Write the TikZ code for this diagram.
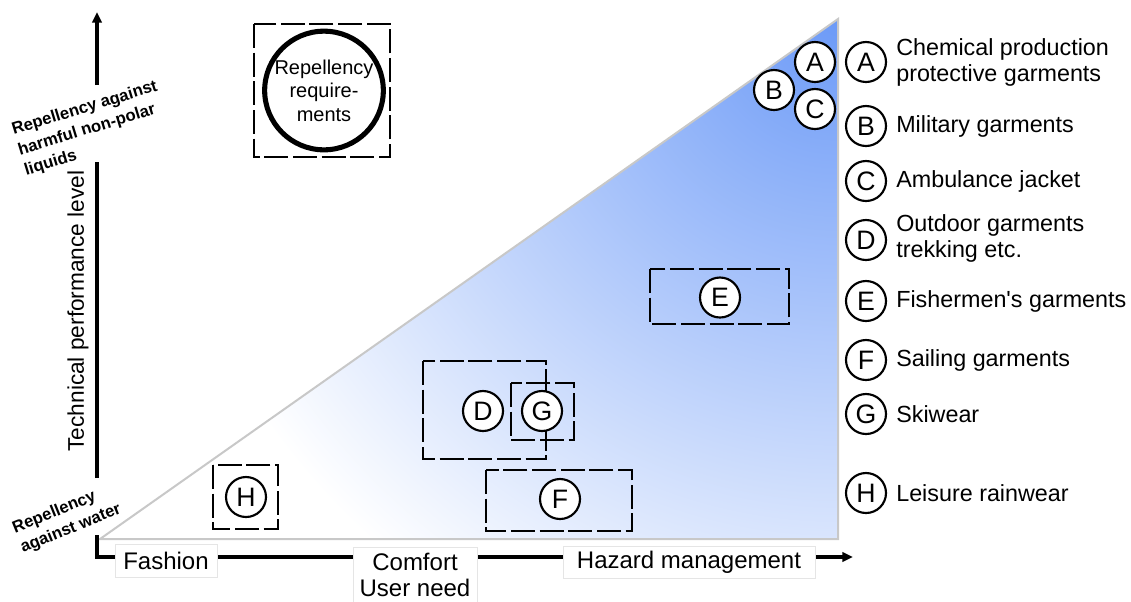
\documentclass[tikz,border=0pt]{standalone}
\usepackage{fontspec}
\setmainfont{Liberation Sans}
\usetikzlibrary{arrows.meta}
\definecolor{cBlue}{RGB}{108,154,247}
\definecolor{cEdge}{RGB}{200,200,200}
\begin{document}
\begin{tikzpicture}[x=0.75pt,y=-0.75pt,
  lettercirc/.style={circle,draw,line width=1.6pt,fill=white,minimum size=30pt,inner sep=0pt,font=\fontsize{20}{20}\selectfont},
  dbox/.style={draw,line width=1.4pt,dash pattern=on 18pt off 3.5pt},
  legtext/.style={anchor=west,align=left,font=\fontsize{17.5}{19.5}\selectfont,inner sep=0pt},
  axisbox/.style={draw=black!10,fill=white,line width=0.6pt,font=\fontsize{18}{19}\selectfont,inner sep=0pt,align=center},
  axisline/.style={line width=3pt},
  sidelabel/.style={font=\bfseries\fontsize{12.5}{16}\selectfont,align=left,inner sep=0pt},
  tip/.style={-{Triangle[length=8pt,width=7pt]}}
  ]
\useasboundingbox (0,0) rectangle (1131,601);
% triangle
\coordinate (T1) at (100,539);
\coordinate (T2) at (838,19);
\coordinate (T3) at (838,539);
\begin{scope}
\clip (T1) -- (T2) -- (T3) -- cycle;
\fill[white] (T1) -- (T2) -- (T3) -- cycle;
\shade[inner color=cBlue, outer color=white] (T2) circle[radius=700];
\end{scope}
\draw[cEdge, line width=1.5pt, line join=miter] (T1) -- (T2) -- (T3) -- cycle;
% axes
\coordinate (Ya) at (97,535);
\coordinate (O) at (97,557);
\coordinate (Xend) at (853,557);
\coordinate (Yb) at (97,478);
\coordinate (Yc) at (97,162);
\coordinate (Yd) at (97,85);
\coordinate (Ytop) at (97,12);
\draw[axisline, tip, line join=miter] (Ya) -- (O) -- (Xend);
\draw[axisline] (Yb) -- (Yc);
\draw[axisline, tip] (Yd) -- (Ytop);
% axis labels
\node[axisbox, minimum width=76.5pt, minimum height=24.75pt] (fashion) at (166,560.5) {Fashion};
\node[axisbox, minimum width=93pt, minimum height=42pt] (comfort) at (415,575) {Comfort\\User need};
\node[axisbox, minimum width=189pt, minimum height=24pt] (hazard) at (689,562) {Hazard management};
\node[rotate=90, font=\fontsize{17}{19}\selectfont, inner sep=0pt] (tpl) at (78,311) {Technical performance level};
\node[sidelabel, rotate=17] (nonpolar) at (91,129) {Repellency against\\harmful non-polar\\liquids};
\node[sidelabel, rotate=22] (water) at (67,519) {Repellency\\against water};
% requirements
\draw[dbox] (254,24) rectangle (390,157);
\node[circle, draw, line width=3.8pt, minimum size=89pt, inner sep=0pt, align=center, font=\fontsize{15}{17.6}\selectfont] (req) at (324,90.5) {Repellency\\require-\\ments};
% dashed boxes
\draw[dbox] (650,269) rectangle (789,324);
\draw[dbox] (423,361) rectangle (546,459);
\draw[dbox] (511,383) rectangle (574,440);
\draw[dbox] (486,470) rectangle (632,531);
\draw[dbox] (213,465) rectangle (278,529);
% circles in the chart
\node[lettercirc] (cA) at (815,62) {A};
\node[lettercirc] (cB) at (774,90) {B};
\node[lettercirc] (cC) at (815,109) {C};
\node[lettercirc] (cE) at (720,297.5) {E};
\node[lettercirc] (cD) at (483,411) {D};
\node[lettercirc] (cG) at (542,411) {G};
\node[lettercirc] (cF) at (560,499) {F};
\node[lettercirc] (cH) at (246,497) {H};
% legend
\node[lettercirc] (lA) at (866,62) {A};
\node[lettercirc] (lB) at (866,126) {B};
\node[lettercirc] (lC) at (866,181) {C};
\node[lettercirc] (lD) at (866,240) {D};
\node[lettercirc] (lE) at (866,301) {E};
\node[lettercirc] (lF) at (866,360) {F};
\node[lettercirc] (lG) at (866,414) {G};
\node[lettercirc] (lH) at (866,493) {H};
\node[legtext] (tA) at (896,62) {Chemical production\\protective garments};
\node[legtext] (tB) at (896,126) {Military garments};
\node[legtext] (tC) at (896,181) {Ambulance jacket};
\node[legtext] (tD) at (896,238) {Outdoor garments\\trekking etc.};
\node[legtext] (tE) at (896,301) {Fishermen\textquotesingle s garments};
\node[legtext] (tF) at (896,360) {Sailing garments};
\node[legtext] (tG) at (896,414) {Skiwear};
\node[legtext] (tH) at (896,493) {Leisure rainwear};
\end{tikzpicture}
\end{document}
